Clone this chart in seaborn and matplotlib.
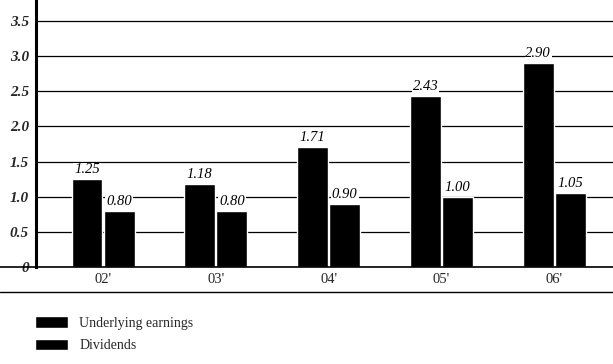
import matplotlib
matplotlib.use("Agg")
import matplotlib.pyplot as plt
from matplotlib.lines import Line2D
import seaborn as sns
import pandas as pd

years = ["02'", "03'", "04'", "05'", "06'"]
underlying_earnings = [1.25, 1.18, 1.71, 2.43, 2.90]
dividends = [0.80, 0.80, 0.90, 1.00, 1.05]
series_names = ["Underlying earnings", "Dividends"]
y_ticks = [0, 0.5, 1.0, 1.5, 2.0, 2.5, 3.0, 3.5]
y_tick_labels = ["0", "0.5", "1.0", "1.5", "2.0", "2.5", "3.0", "3.5"]

df = pd.DataFrame({
    "year": years * 2,
    "value": underlying_earnings + dividends,
    "series": [series_names[0]] * len(years) + [series_names[1]] * len(years),
})

sns.set_theme(style="white")
plt.rcParams["font.family"] = ["Liberation Serif", "DejaVu Serif"]

W, H = 613, 364
fig = plt.figure(figsize=(W / 100, H / 100), dpi=100)
ax_left, ax_right, ax_top, ax_bottom = 36, 613, 0, 267
ax = fig.add_axes([ax_left / W, 1 - ax_bottom / H, (ax_right - ax_left) / W, (ax_bottom - ax_top) / H])

sns.barplot(data=df, x="year", y="value", hue="series", hue_order=series_names,
            palette=["black", "black"], width=0.57, gap=0.04, edgecolor="white",
            linewidth=1.0, saturation=1, ax=ax, zorder=3)

for cont in ax.containers:
    ax.bar_label(cont, fmt="%.2f", padding=2, fontsize=10.5, fontstyle="italic",
                 color="black", zorder=4,
                 bbox=dict(facecolor="white", edgecolor="none", pad=0.6))

ax.set_ylim(0, 3.8)
ax.set_xlim(-0.594, 4.52)
ax.set_yticks(y_ticks)
ax.set_yticklabels(y_tick_labels, fontsize=11, fontstyle="italic", fontweight="bold")
ax.set_xlabel("")
ax.set_ylabel("")
ax.tick_params(axis="y", length=0, pad=5)
ax.tick_params(axis="x", length=0, pad=4, labelsize=10.5)
ax.yaxis.grid(True, color="black", linewidth=0.9)
ax.xaxis.grid(False)
ax.set_axisbelow(True)
for s in ["top", "right"]:
    ax.spines[s].set_visible(False)
ax.spines["left"].set_color("black")
ax.spines["left"].set_linewidth(2.2)
ax.spines["bottom"].set_visible(False)

# full-width baseline and bottom rule
fig.add_artist(Line2D([0, 1], [1 - ax_bottom / H] * 2, color="black", linewidth=1.2,
                      transform=fig.transFigure))
fig.add_artist(Line2D([0, 1], [1 - 292 / H] * 2, color="black", linewidth=1.0,
                      transform=fig.transFigure))

sns.move_legend(ax, "upper left", bbox_to_anchor=(35 / W, 1 - 316 / H),
                bbox_transform=fig.transFigure, frameon=False, title=None,
                fontsize=10, handlelength=2.4, handleheight=0.9,
                handletextpad=0.8, labelspacing=0.65, borderpad=0, borderaxespad=0)

fig.savefig("out.png", dpi=100)
